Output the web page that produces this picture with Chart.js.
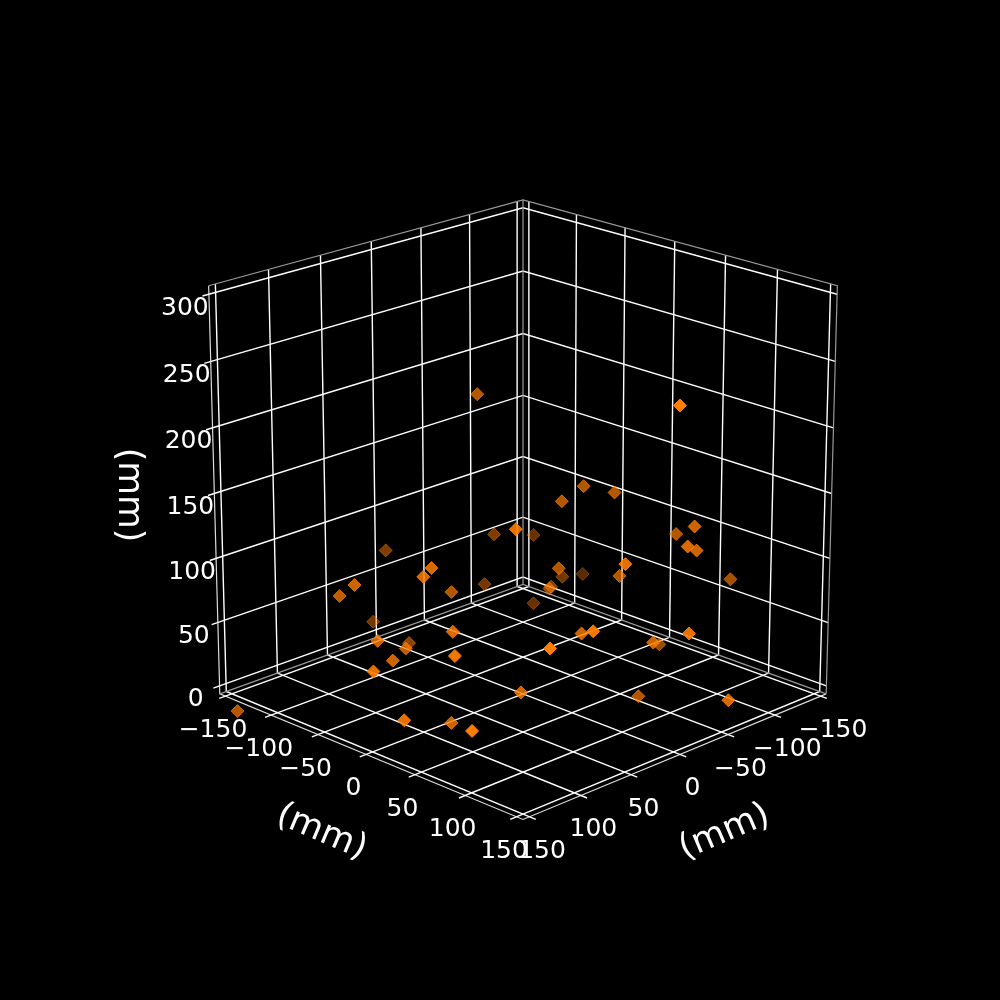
<!DOCTYPE html>
<html>
<head>
<meta charset="utf-8">
<style>body{margin:0;background:#000}canvas{display:block}</style>
<script src="https://cdn.jsdelivr.net/npm/chart.js@4"></script>
</head>
<body>
<canvas id="myChart" width="1000" height="1000"></canvas>
<script>
// points in mm (depth guessed from how faded each marker is)
const xValues = [137,141,195,39,114,119,67,-20,-20,80,45,139,114,57,113,135,144,173,77,166,117,162,-18,-32,-4,-68,9,-62,-101,32,-20,-40,-11,-56,37,73,111,3,-57,-37,-56,-16,-34,-90,13,-9,-10,20,8];
const yValues = [-46,-26,-92,-103,24,21,-5,-60,-50,73,-111,-5,45,-60,-4,6,78,27,75,50,46,113,43,60,35,-57,45,-21,-38,132,77,-11,16,-45,95,141,137,132,82,133,98,146,138,120,175,107,192,-26,159];
const zValues = [96,111,11,89,130,124,91,58,100,163,32,74,88,33,61,61,88,70,40,38,20,48,162,158,152,85,107,63,50,140,102,64,78,37,79,104,101,73,40,150,130,144,134,92,95,21,43,224,257];

const xTicks = [-150,-100,-50,0,50,100,150];
const yTicks = [-150,-100,-50,0,50,100,150];
const zTicks = [0,50,100,150,200,250,300];
const axisLabel = '(mm)';

// limits: ticks plus the 1/48 margin of a 3d axes
const lim = 156.25, zMin = -6.25, zMax = 306.25;
const boxSide = 1.0562, dist = 10;
const elev = 20 * Math.PI / 180, cosE = Math.cos(elev), sinE = Math.sin(elev);
const r2 = Math.SQRT1_2;

// view plane position of a 3d point, azim 45
function toView(x, y, z) {
    const k = boxSide / 312.5;
    const px = x * k, py = y * k, pz = (z - 150) * k;
    const h = (px + py) * r2;
    const side = (py - px) * r2;
    const depth = h * cosE + pz * sinE;
    const up = -h * sinE + pz * cosE;
    return { x: side / (dist - depth), y: up / (dist - depth), depth: depth };
}

function line(points, color, width) {
    return {
        type: 'scatter',
        showLine: true,
        pointRadius: 0,
        borderColor: color,
        borderWidth: width,
        data: points.map(p => toView(p[0], p[1], p[2])),
        order: 5
    };
}

const gridColor = '#ffffff', paneColor = '#999999', tick = 6;
const datasets = [];

// pane edges
datasets.push(line([[lim,-lim,zMin],[-lim,-lim,zMin],[-lim,lim,zMin]], paneColor, 1.2));
datasets.push(line([[lim,-lim,zMax],[-lim,-lim,zMax],[-lim,lim,zMax],[-lim,lim,zMin]], paneColor, 1.2));
datasets.push(line([[-lim,-lim,zMin],[-lim,-lim,zMax]], paneColor, 1.2));

// grid and ticks
xTicks.forEach(t => datasets.push(line([[t,lim+tick,zMin],[t,-lim,zMin],[t,-lim,zMax]], gridColor, 1.4)));
yTicks.forEach(t => datasets.push(line([[lim+tick,t,zMin],[-lim,t,zMin],[-lim,t,zMax]], gridColor, 1.4)));
zTicks.forEach(t => datasets.push(line([[lim+tick,-lim,t],[-lim,-lim,t],[-lim,lim,t]], gridColor, 1.4)));

// axis lines
datasets.push(line([[lim,-lim,zMax],[lim,-lim,zMin],[lim,lim,zMin],[-lim,lim,zMin]], '#dcdcdc', 1.2));

// scatter, far points first, faded by depth
const pts = xValues.map((x, i) => toView(x, yValues[i], zValues[i]));
pts.sort((a, b) => a.depth - b.depth);
const dMin = pts[0].depth, dMax = pts[pts.length - 1].depth;
const shade = pts.map(p => 0.35 + 0.65 * (p.depth - dMin) / (dMax - dMin));

datasets.unshift({
    type: 'scatter',
    data: pts,
    pointStyle: 'rectRot',
    pointRadius: 6.5,
    pointBorderWidth: 1,
    pointBackgroundColor: shade.map(a => `rgba(255,125,0,${a})`),
    pointBorderColor: shade.map(a => `rgba(255,125,0,${a})`),
    order: 0
});

const white = '#ffffff';
const tickFont = '25px "DejaVu Sans"', labelFont = '34.7px "DejaVu Sans"';

const axisText = {
    id: 'axisText',
    afterDraw(chart) {
        const ctx = chart.ctx, sx = chart.scales.x, sy = chart.scales.y;
        const put = (p, dx, dy, text, font, rot) => {
            ctx.save();
            ctx.translate(sx.getPixelForValue(p.x) + dx, sy.getPixelForValue(p.y) + dy);
            ctx.rotate(rot || 0);
            ctx.font = font;
            ctx.fillStyle = white;
            ctx.textAlign = 'center';
            ctx.textBaseline = 'middle';
            ctx.fillText(text, 0, 0);
            ctx.restore();
        };
        const str = v => String(v).replace('-', '\u2212');
        yTicks.forEach(t => put(toView(lim, t, zMin), -12.5, 34.5, str(t), tickFont));
        xTicks.forEach(t => put(toView(t, lim, zMin), 12.5, 34.5, str(t), tickFont));
        zTicks.forEach(t => put(toView(lim, -lim, t), -24, 14, str(t), tickFont));

        put(toView(lim, 0, zMin), -44.5, 78, axisLabel, labelFont, 23 * Math.PI / 180);
        put(toView(0, lim, zMin), 44.5, 78, axisLabel, labelFont, -23 * Math.PI / 180);
        put(toView(lim, -lim, 150), -86, 1.5, axisLabel, labelFont, Math.PI / 2);
    }
};

// view plane units across the 1000px canvas
const scaleX = 4133, scaleY = 4110, midX = 523, midY = 493.5;

new Chart(document.getElementById('myChart'), {
    type: 'scatter',
    data: { datasets: datasets },
    options: {
        responsive: false,
        animation: false,
        devicePixelRatio: 1,
        layout: { padding: 0, autoPadding: false },
        plugins: { legend: { display: false }, tooltip: { enabled: false } },
        scales: {
            x: { display: false, min: -midX / scaleX, max: (1000 - midX) / scaleX },
            y: { display: false, min: (midY - 1000) / scaleY, max: midY / scaleY }
        }
    },
    plugins: [axisText]
});
</script>
</body>
</html>
